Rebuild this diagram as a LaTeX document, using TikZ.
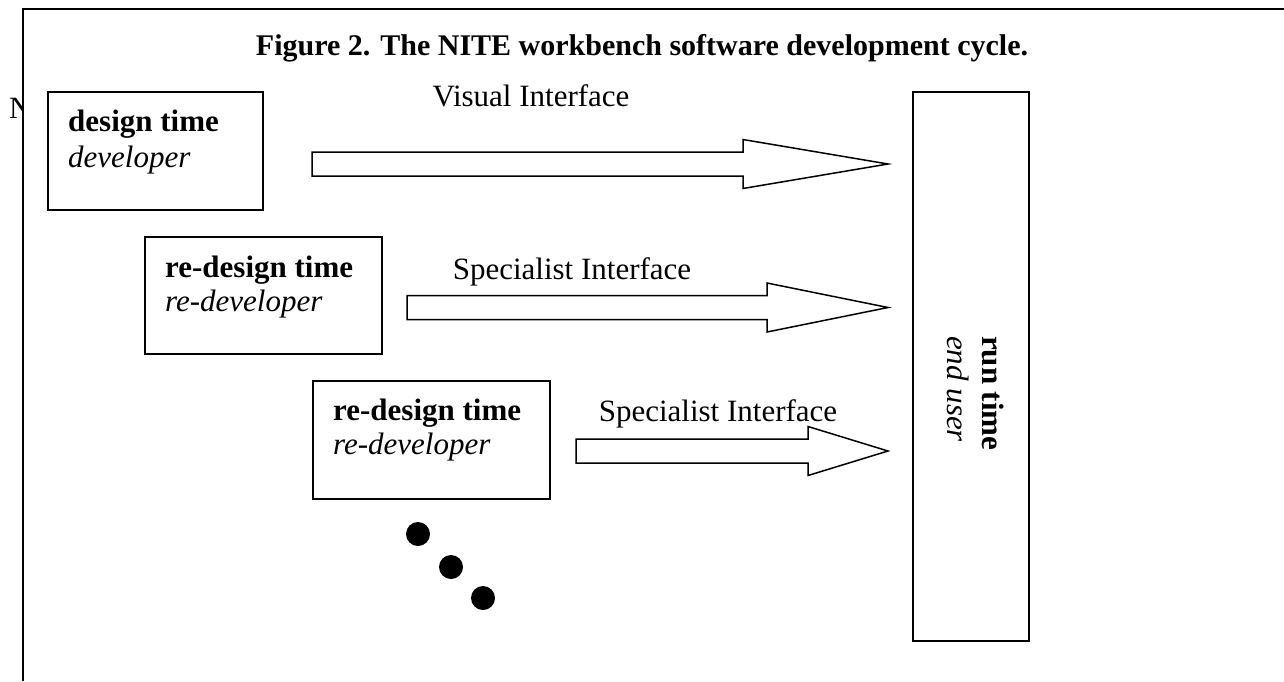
\documentclass[tikz,border=0pt]{standalone}
\usepackage{fontspec}
\setmainfont{Liberation Serif}
\usetikzlibrary{calc}
\begin{document}
\begin{tikzpicture}[x=1pt,y=-1pt,
  box/.style={draw,line width=1.5pt,inner sep=0pt,anchor=north west},
  frameline/.style={line width=2.6pt},
  barrow/.style={draw,line width=1.5pt,line join=miter},
  txt/.style={inner sep=0pt,anchor=base west,font=\fontsize{31}{37}\selectfont},
  lbl/.style={inner sep=0pt,anchor=base,font=\fontsize{31}{37}\selectfont},
  dot/.style={circle,fill=black,inner sep=0pt,minimum size=24pt}]
\useasboundingbox (0,0) rectangle (1284,681);
% frame
\draw[frameline] (23,681) -- (23,9) -- (1284,9);
\begin{scope}
  \clip (0,0) rectangle (22,681);
  \node[txt] (N) at (9,118) {N};
\end{scope}
% title
\node[inner sep=0pt,anchor=base,font=\fontsize{30}{36}\selectfont\bfseries] (title) at (642,55)
  {Figure 2. The NITE workbench software development cycle.};
% boxes
\node[box,minimum width=215pt,minimum height=118pt] (design) at (47,91) {};
\node[box,minimum width=237pt,minimum height=117pt] (redesignA) at (144,236) {};
\node[box,minimum width=237pt,minimum height=118pt] (redesignB) at (312,380) {};
\node[box,minimum width=116pt,minimum height=549pt] (run) at (912,91) {};
% box texts
\node[txt] (designT) at ($(design.north west)+(21,40)$) {\bfseries design time};
\node[txt] (designS) at ($(design.north west)+(21,76)$) {\itshape developer};
\node[txt] (redesignAT) at ($(redesignA.north west)+(21,41)$) {\bfseries re-design time};
\node[txt] (redesignAS) at ($(redesignA.north west)+(21,75)$) {\itshape re-developer};
\node[txt] (redesignBT) at ($(redesignB.north west)+(21,40)$) {\bfseries re-design time};
\node[txt] (redesignBS) at ($(redesignB.north west)+(21,74)$) {\itshape re-developer};
\node[inner sep=0pt,rotate=-90,align=left,font=\fontsize{31}{35}\selectfont] (runT) at ($(run.center)+(5,27)$)
  {\textbf{run time}\\\textit{end user}};
% block arrows
\foreach \i/\sx/\bx/\yy in {1/312/743/164, 2/407/767/307.5, 3/576/808/451}{
  \coordinate (a\i s) at (\sx,\yy);
  \coordinate (a\i b) at (\bx,\yy);
  \coordinate (a\i t) at (888,\yy);
  \draw[barrow] ($(a\i s)+(0,-12)$) -- ($(a\i b)+(0,-12)$) -- ($(a\i b)+(0,-24.5)$)
     -- (a\i t) -- ($(a\i b)+(0,24.5)$) -- ($(a\i b)+(0,12)$) -- ($(a\i s)+(0,12)$) -- cycle;
}
% arrow labels
\node[lbl] (l1) at (531,106) {Visual Interface};
\node[lbl] (l2) at (572,279) {Specialist Interface};
\node[lbl] (l3) at (718,421) {Specialist Interface};
% dots
\node[dot] (d1) at (418,534) {};
\node[dot] (d2) at (451,567) {};
\node[dot] (d3) at (483,598) {};
\end{tikzpicture}
\end{document}
